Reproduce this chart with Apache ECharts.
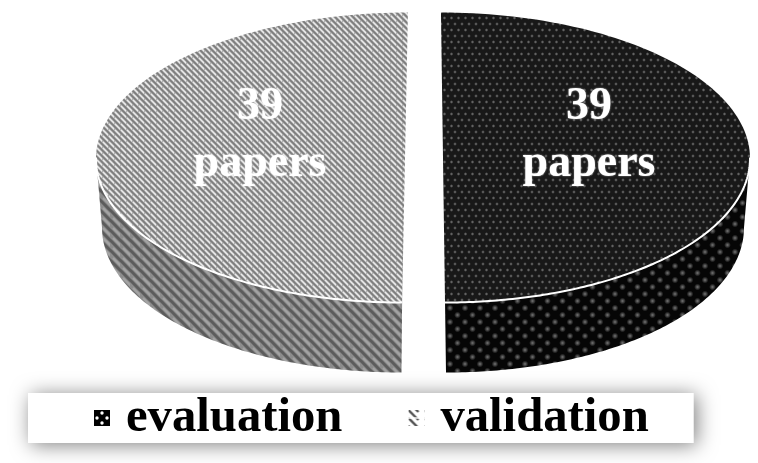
<!DOCTYPE html>
<html><head><meta charset="utf-8">
<style>html,body{margin:0;padding:0;background:#fff}#c{width:758px;height:463px}</style>
<script src="https://cdn.jsdelivr.net/npm/echarts@6/dist/echarts.min.js"></script>
</head><body><div id="c"></div>
<script>
const categories = ['evaluation', 'validation'];
const paperCounts = [39, 39];
const unitLabel = 'papers';

function tile(w, h, draw) {
  const c = document.createElement('canvas');
  c.width = w; c.height = h;
  draw(c.getContext('2d'), w, h);
  return { image: c, repeat: 'repeat' };
}
function dots(ctx, w, h, bg, col, r) {
  ctx.fillStyle = bg; ctx.fillRect(0, 0, w, h);
  const pts = [[0,0],[w,0],[0,h],[w,h],[w/2,h/2]];
  pts.forEach(p => {
    const g = ctx.createRadialGradient(p[0],p[1],0,p[0],p[1],r);
    g.addColorStop(0,col); g.addColorStop(1,bg);
    ctx.fillStyle = g; ctx.beginPath(); ctx.arc(p[0],p[1],r,0,7); ctx.fill();
  });
}
function diag(ctx, n, col, lw, off) {
  ctx.strokeStyle = col; ctx.lineWidth = lw;
  for (let k = -2; k <= 2; k++) {
    ctx.beginPath();
    ctx.moveTo(-2 + off, -2 + k * n);
    ctx.lineTo(n + 2 + off, n + 2 + k * n);
    ctx.stroke();
  }
}
const fills = {
  evaluation: {
    top: tile(7, 12, (x,w,h) => dots(x,w,h,'#181818','#7c7c7c',1.9)),
    wall: tile(15, 14, (x,w,h) => dots(x,w,h,'#060606','#767676',3.4)),
    legend: tile(16, 16, x => {
      x.fillStyle = '#000'; x.fillRect(0,0,16,16);
      x.fillStyle = '#fff';
      [[8,3],[3,8],[13,8],[8,13]].forEach(p => { x.beginPath(); x.arc(p[0],p[1],1.7,0,7); x.fill(); });
    })
  },
  validation: {
    top: tile(6, 6, (x,w,h) => {
      x.fillStyle = '#b2b2b2'; x.fillRect(0,0,w,h);
      diag(x, 6, '#7c7c7c', 1.6, 0);
      diag(x, 6, '#ececec', 1.3, 3);
    }),
    wall: tile(10, 10, (x,w,h) => {
      x.fillStyle = '#8c8c8c'; x.fillRect(0,0,w,h);
      diag(x, 10, '#5c5c5c', 3, 0);
      diag(x, 10, '#a4a4a4', 2, 5);
    }),
    legend: tile(16, 16, x => {
      x.fillStyle = '#fff'; x.fillRect(0,0,16,16);
      diag(x, 8, '#555', 2.4, 0);
      x.fillStyle = 'rgba(255,255,255,.7)'; x.fillRect(0,7,16,2);
    })
  }
};

const cx = 423, cy = 157.5, rx = 307, ry = 145, depth = 70, baseRx = 301;
const explode = [20, 20], lean = [0.014, -0.02], edgeShift = [0, 2], baseShift = [3, -1.5];
const labelDx = [166, -163];
const total = paperCounts.reduce((a, b) => a + b, 0);

function sliceRange(i) {
  let s = 0;
  for (let k = 0; k < i; k++) s += paperCounts[k];
  return [s / total * Math.PI * 2, (s + paperCounts[i]) / total * Math.PI * 2];
}
function arcPoints(a0, a1, ox, oy, rX, k, shift) {
  const pts = [], n = 120;
  for (let j = 0; j <= n; j++) {
    const t = a0 + (a1 - a0) * j / n;
    const c = Math.cos(t);
    const y = oy - ry * c;
    pts.push([ox + rX * Math.sin(t) + k * (y - oy) + shift * c * c, y]);
  }
  return pts;
}
function renderSlice(i) {
  return function (params, api) {
    const val = api.value(0);
    const [a0, a1] = sliceRange(i);
    const mid = (a0 + a1) / 2;
    const ox = cx + explode[i] * Math.sin(mid);
    const k = lean[i], sh = edgeShift[i];
    const fill = fills[categories[i]];
    const top = arcPoints(a0, a1, ox, cy, rx, k, sh);
    const center = [ox + sh, cy];
    const lo0 = i === 0 ? Math.max(a0, Math.PI / 2) : a0;
    const lo1 = i === 0 ? a1 : Math.min(a1, Math.PI * 1.5);
    const rim = arcPoints(lo0, lo1, ox, cy, rx, k, sh);
    const base = arcPoints(lo0, lo1, ox, cy + depth, baseRx, 0, baseShift[i]).reverse();
    return {
      type: 'group',
      children: [
        { type: 'polygon', shape: { points: rim.concat(base) }, style: { fill: fill.wall } },
        { type: 'polygon', shape: { points: top.concat([center]) }, style: { fill: fill.top } },
        { type: 'polyline', shape: { points: rim }, style: { stroke: '#fff', lineWidth: 2, fill: null } },
        { type: 'text', x: cx + labelDx[i], y: 136, style: {
            text: val + '\n' + unitLabel, fill: '#fff',
            font: 'bold 46px "Liberation Serif"', lineHeight: 57,
            align: 'center', verticalAlign: 'middle',
            textShadowColor: 'rgba(255,255,255,0.6)', textShadowBlur: 2 } }
      ]
    };
  };
}

const chart = echarts.init(document.getElementById('c'), null, { renderer: 'canvas' });
chart.setOption({
  animation: false,
  backgroundColor: '#fff',
  legend: {
    left: 28, top: 393,
    padding: [0, 45, 0, 66],
    itemGap: 66, itemWidth: 16, itemHeight: 16,
    backgroundColor: '#fff',
    shadowColor: 'rgba(0,0,0,0.5)', shadowBlur: 20, shadowOffsetX: 3, shadowOffsetY: 2,
    selectedMode: false,
    textStyle: { fontFamily: 'Liberation Serif', fontWeight: 'bold', fontSize: 48.7, color: '#000', padding: [0, 0, 0, 11], lineHeight: 50 },
    data: categories.map(n => ({ name: n, icon: 'rect', itemStyle: { color: fills[n].legend, borderWidth: 0 } }))
  },
  series: categories.map((n, i) => ({
    type: 'custom', name: n, coordinateSystem: 'none', silent: true,
    itemStyle: { color: i === 0 ? '#000' : '#999' },
    renderItem: renderSlice(i),
    data: [[paperCounts[i]]]
  }))
});
</script></body></html>
